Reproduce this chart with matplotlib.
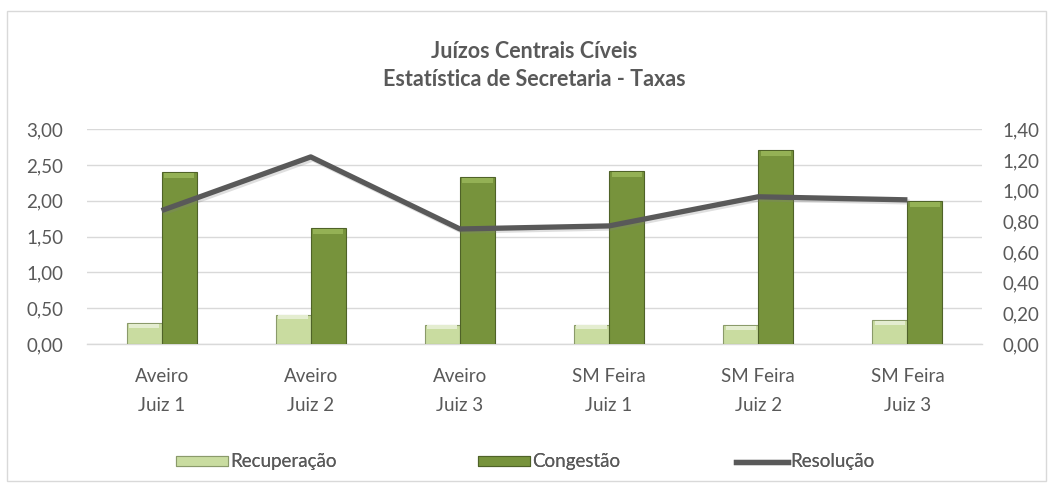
import matplotlib
matplotlib.use("Agg")
import matplotlib.pyplot as plt
import matplotlib.patheffects as pe
from matplotlib.patches import Rectangle
from matplotlib.lines import Line2D
import numpy as np

plt.rcParams['font.family'] = ['Lato', 'DejaVu Sans']

categories = ["Aveiro\nJuiz 1", "Aveiro\nJuiz 2", "Aveiro\nJuiz 3",
              "SM Feira\nJuiz 1", "SM Feira\nJuiz 2", "SM Feira\nJuiz 3"]
recuperacao = [0.29, 0.41, 0.27, 0.27, 0.26, 0.33]
congestao = [2.40, 1.62, 2.33, 2.42, 2.71, 2.00]
resolucao = [0.87, 1.22, 0.75, 0.77, 0.96, 0.94]

left_ticks = [0.0, 0.5, 1.0, 1.5, 2.0, 2.5, 3.0]
left_labels = ["0,00", "0,50", "1,00", "1,50", "2,00", "2,50", "3,00"]
right_ticks = [0.0, 0.2, 0.4, 0.6, 0.8, 1.0, 1.2, 1.4]
right_labels = ["0,00", "0,20", "0,40", "0,60", "0,80", "1,00", "1,20", "1,40"]

title = "Juízos Centrais Cíveis\nEstatística de Secretaria - Taxas"
TXT = "#595959"
GRID = "#D9D9D9"
C_REC = "#C9DCA0"
C_REC_E = "#8A9A6A"
C_CON = "#77933C"
C_CON_E = "#4F6228"
C_RES = "#595959"
FS = 13.5

W, H = 1053, 488
fig = plt.figure(figsize=(W / 100, H / 100), dpi=100)
fig.patches.append(Rectangle((7 / W, 1 - 481 / H), (1046 - 7) / W, (481 - 11) / H,
                             transform=fig.transFigure, fill=False,
                             edgecolor=GRID, linewidth=1.0))

ax = fig.add_axes([87 / W, 1 - 344 / H, (982 - 87) / W, (344 - 129.3) / H])
x = np.arange(len(categories))
bw = 0.235
ax.bar(x - bw / 2, recuperacao, bw, color=C_REC, edgecolor=C_REC_E, linewidth=0.8, zorder=3)
ax.bar(x + bw / 2, congestao, bw, color=C_CON, edgecolor=C_CON_E, linewidth=0.8, zorder=3)
# bevel highlight on top of bars
ax.bar(x - bw / 2, [0.055] * len(x), bw * 0.86, bottom=np.array(recuperacao) - 0.065,
       color="#E4EDD0", linewidth=0, zorder=4)
ax.bar(x + bw / 2, [0.07] * len(x), bw * 0.86, bottom=np.array(congestao) - 0.08,
       color="#94B155", linewidth=0, zorder=4)

ax.set_xlim(-0.5, len(categories) - 0.5)
ax.set_ylim(0, 3.0)
ax.set_yticks(left_ticks)
ax.set_yticklabels(left_labels)
ax.set_xticks(x)
ax.set_xticklabels(categories, linespacing=1.85)
ax.tick_params(axis='both', length=0, colors=TXT, labelsize=FS)
ax.tick_params(axis='y', pad=17)
ax.tick_params(axis='x', pad=17)
ax.grid(axis='y', color=GRID, linewidth=1.0, zorder=0)
ax.set_axisbelow(True)
for s in ["top", "left", "right"]:
    ax.spines[s].set_visible(False)
ax.spines["bottom"].set_color(GRID)
ax.spines["bottom"].set_linewidth(1.0)

ax2 = ax.twinx()
ax2.plot(x, resolucao, color=C_RES, linewidth=3.8, solid_capstyle='butt', zorder=5,
         path_effects=[pe.SimpleLineShadow(offset=(1.5, -1.5), alpha=0.25, shadow_color='gray'),
                       pe.Normal()])
ax2.set_ylim(0, 1.4)
ax2.set_yticks(right_ticks)
ax2.set_yticklabels(right_labels)
ax2.tick_params(axis='y', length=0, colors=TXT, labelsize=FS, pad=15)
for s in ["top", "left", "right", "bottom"]:
    ax2.spines[s].set_visible(False)

fig.text(0.5 * (87 + 982) / W, 1 - 65.5 / H, title, ha='center', va='center',
         fontsize=15.5, fontweight='bold', color=TXT, linespacing=1.45)

# legend
h_rec = Rectangle((0, 0), 1, 1, facecolor=C_REC, edgecolor=C_REC_E, linewidth=0.8)
h_con = Rectangle((0, 0), 1, 1, facecolor=C_CON, edgecolor=C_CON_E, linewidth=0.8)
h_res = Line2D([], [], color=C_RES, linewidth=3.8)
leg_y = 1 - 462 / H
for handle, label, lx in [(h_rec, "Recuperação", 180), (h_con, "Congestão", 482),
                          (h_res, "Resolução", 740)]:
    lg = fig.legend([handle], [label], loc='center left', bbox_to_anchor=(lx / W - 0.004, leg_y),
                    frameon=False, fontsize=FS, handlelength=2.8, handleheight=0.5,
                    handletextpad=0.1, borderpad=0, borderaxespad=0)
    for t in lg.get_texts():
        t.set_color(TXT)
    fig.add_artist(lg)

fig.savefig("out.png", dpi=100, facecolor='white')
